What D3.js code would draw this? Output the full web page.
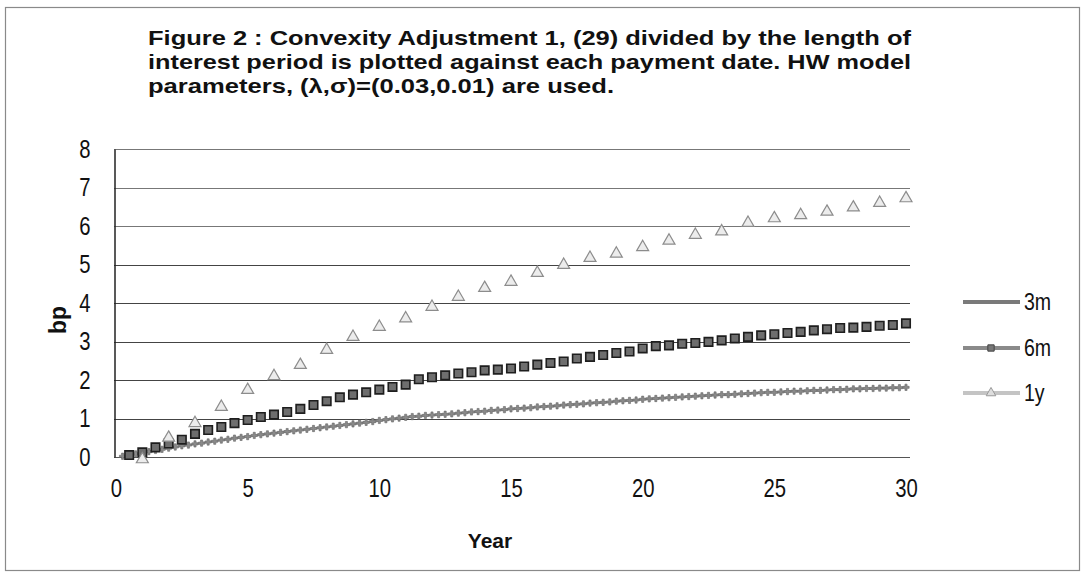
<!DOCTYPE html>
<html>
<head>
    <meta charset="utf-8">
    <script src="https://d3js.org/d3.v7.min.js"></script>
    <style>
        body { margin: 0; background: #fff; }
        text { font-family: "Liberation Sans", Arial, sans-serif; }
    </style>
</head>
<body>
    <div id="my_dataviz"></div>
    <script>

        // title lines
        var titleLines = [
            "Figure 2 : Convexity Adjustment 1,  (29) divided by the length of",
            "interest period is plotted against each payment date. HW model",
            "parameters, (\u03bb,\u03c3)=(0.03,0.01)  are used."
        ];
        var titleWidths = [763, 763, 466];

        var xTicks = [0, 5, 10, 15, 20, 25, 30];
        var yTicks = [0, 1, 2, 3, 4, 5, 6, 7, 8];
        var seriesNames = ["3m", "6m", "1y"];

        // 3m: quarterly payment dates 0.25 .. 30
        var values3m = [
            0.02, 0.05, 0.08, 0.11, 0.14, 0.17, 0.20, 0.23, 0.26, 0.29, 0.31, 0.34,
            0.36, 0.39, 0.41, 0.44, 0.46, 0.49, 0.51, 0.53, 0.56, 0.58, 0.60, 0.62,
            0.64, 0.66, 0.68, 0.70, 0.72, 0.74, 0.76, 0.78, 0.80, 0.82, 0.84, 0.86,
            0.88, 0.90, 0.92, 0.95, 0.97, 0.99, 1.01, 1.03, 1.05, 1.06, 1.08, 1.09,
            1.10, 1.11, 1.12, 1.14, 1.15, 1.17, 1.18, 1.19, 1.21, 1.22, 1.23, 1.25,
            1.26, 1.27, 1.28, 1.30, 1.31, 1.32, 1.33, 1.35, 1.36, 1.37, 1.38, 1.40,
            1.41, 1.42, 1.43, 1.45, 1.46, 1.47, 1.48, 1.50, 1.51, 1.52, 1.53, 1.54,
            1.55, 1.56, 1.57, 1.58, 1.59, 1.60, 1.61, 1.62, 1.62, 1.63, 1.64, 1.65,
            1.66, 1.67, 1.68, 1.68, 1.69, 1.70, 1.71, 1.71, 1.72, 1.73, 1.73, 1.74,
            1.75, 1.75, 1.76, 1.77, 1.77, 1.78, 1.78, 1.79, 1.79, 1.80, 1.80, 1.81
        ];

        // 6m: semi-annual payment dates 0.5 .. 30
        var values6m = [
            0.05, 0.12, 0.25, 0.35, 0.45, 0.60, 0.70, 0.78, 0.88, 0.96,
            1.04, 1.10, 1.17, 1.25, 1.35, 1.45, 1.55, 1.62, 1.68, 1.75,
            1.82, 1.88, 2.02, 2.07, 2.12, 2.17, 2.20, 2.25, 2.27, 2.30,
            2.35, 2.40, 2.44, 2.48, 2.56, 2.60, 2.65, 2.70, 2.74, 2.82,
            2.88, 2.90, 2.94, 2.96, 2.99, 3.03, 3.08, 3.12, 3.16, 3.19,
            3.22, 3.25, 3.29, 3.32, 3.35, 3.36, 3.38, 3.41, 3.43, 3.47
        ];

        // 1y: annual payment dates 1 .. 30
        var values1y = [
            -0.06, 0.50, 0.88, 1.30, 1.74, 2.10, 2.39, 2.78, 3.12, 3.38,
            3.60, 3.90, 4.16, 4.39, 4.55, 4.78, 4.99, 5.17, 5.28, 5.45,
            5.62, 5.77, 5.86, 6.08, 6.20, 6.28, 6.37, 6.48, 6.60, 6.72
        ];

        function toPoints(vals, step) {
            return vals.map(function (v, i) { return { t: (i + 1) * step, v: v }; });
        }
        var data3m = toPoints(values3m, 0.25);
        var data6m = toPoints(values6m, 0.5);
        var data1y = toPoints(values1y, 1);

        var W = 1083, H = 578;
        var svg = d3.select("#my_dataviz")
            .append("svg")
            .attr("width", W)
            .attr("height", H);

        // outer frame
        svg.append("rect")
            .attr("x", 5.5).attr("y", 7.5)
            .attr("width", 1074).attr("height", 563)
            .attr("fill", "none")
            .attr("stroke", "#8a8a8a")
            .attr("stroke-width", 1.2);

        // title
        svg.append("g").selectAll("text")
            .data(titleLines)
            .enter().append("text")
            .attr("x", 148)
            .attr("y", function (d, i) { return 45 + i * 24; })
            .attr("font-size", 21)
            .attr("font-weight", "bold")
            .attr("fill", "#111")
            .attr("textLength", function (d, i) { return titleWidths[i]; })
            .attr("lengthAdjust", "spacingAndGlyphs")
            .text(function (d) { return d; });

        var x = d3.scaleLinear().domain([0, 30]).range([116, 906]);
        var y = d3.scaleLinear().domain([0, 8]).range([457, 149]);

        // gridlines
        svg.append("g").selectAll("line")
            .data(yTicks.slice(1))
            .enter().append("line")
            .attr("x1", 114).attr("x2", 910)
            .attr("y1", function (d) { return Math.round(y(d)) + 0.5; })
            .attr("y2", function (d) { return Math.round(y(d)) + 0.5; })
            .attr("stroke", function (d) { return d >= 6 ? "#777" : "#444"; })
            .attr("stroke-width", 1);

        // x axis
        var xAxis = svg.append("g")
            .attr("transform", "translate(0," + (Math.round(y(0)) + 0.5) + ")")
            .call(d3.axisBottom(x).tickValues(xTicks).tickSize(0).tickPadding(21));
        xAxis.select(".domain").attr("stroke", "#555").attr("d", "M114,0H910");
        xAxis.selectAll("text")
            .attr("font-size", 26)
            .attr("fill", "#111")
            .attr("transform", "scale(0.78,1)");

        // y axis
        var yAxis = svg.append("g")
            .attr("transform", "translate(114.5,0)")
            .call(d3.axisLeft(y).tickValues(yTicks).tickSize(0));
        yAxis.select(".domain").attr("stroke", "#222").attr("stroke-width", 1.5);
        yAxis.selectAll("text")
            .attr("font-size", 26)
            .attr("fill", "#111")
            .attr("x", -24 / 0.78)
            .attr("transform", "scale(0.78,1)");

        // axis titles
        svg.append("text")
            .attr("text-anchor", "middle")
            .attr("transform", "translate(66,320) rotate(-90)")
            .attr("font-size", 23)
            .attr("font-weight", "bold")
            .attr("fill", "#111")
            .text("bp");
        svg.append("text")
            .attr("x", 490).attr("y", 548)
            .attr("text-anchor", "middle")
            .attr("font-size", 21)
            .attr("font-weight", "bold")
            .attr("fill", "#111")
            .text("Year");

        // 3m series : dense small markers
        svg.append("path")
            .datum(data3m)
            .attr("fill", "none")
            .attr("stroke", "#b0b0b0")
            .attr("stroke-width", 2.5)
            .attr("d", d3.line()
                .x(function (d) { return x(d.t); })
                .y(function (d) { return y(d.v); }));
        svg.append("g").selectAll("path")
            .data(data3m)
            .enter().append("path")
            .attr("transform", function (d) { return "translate(" + x(d.t) + "," + y(d.v) + ")"; })
            .attr("d", d3.symbol().type(d3.symbolCross).size(22))
            .attr("fill", "#8a8a8a")
            .attr("stroke", "#666")
            .attr("stroke-width", 0.6);

        // 6m series : squares
        svg.append("g").selectAll("path")
            .data(data6m)
            .enter().append("path")
            .attr("transform", function (d) { return "translate(" + x(d.t) + "," + y(d.v) + ")"; })
            .attr("d", d3.symbol().type(d3.symbolSquare).size(72))
            .attr("fill", "#6e6e6e")
            .attr("stroke", "#1e1e1e")
            .attr("stroke-width", 1.6);

        // 1y series : triangles
        svg.append("g").selectAll("path")
            .data(data1y)
            .enter().append("path")
            .attr("transform", function (d) { return "translate(" + x(d.t) + "," + y(d.v) + ")"; })
            .attr("d", d3.symbol().type(d3.symbolTriangle).size(62))
            .attr("fill", "#ececec")
            .attr("stroke", "#8c8c8c")
            .attr("stroke-width", 1.2);

        // legend
        var legendY = [302, 348, 393];
        var legendStroke = ["#7a7a7a", "#8a8a8a", "#c4c4c4"];
        var legend = svg.append("g").selectAll("g")
            .data(seriesNames)
            .enter().append("g")
            .attr("transform", function (d, i) { return "translate(0," + legendY[i] + ")"; });
        legend.append("line")
            .attr("x1", 963).attr("x2", 1020)
            .attr("y1", 0).attr("y2", 0)
            .attr("stroke", function (d, i) { return legendStroke[i]; })
            .attr("stroke-width", 4);
        legend.filter(function (d, i) { return i > 0; })
            .append("path")
            .attr("transform", "translate(991,0)")
            .attr("d", function (d, i) {
                return d3.symbol().type(i === 0 ? d3.symbolSquare : d3.symbolTriangle).size(40)();
            })
            .attr("fill", function (d, i) { return i === 0 ? "#777" : "#ddd"; })
            .attr("stroke", function (d, i) { return i === 0 ? "#444" : "#999"; });
        legend.append("text")
            .attr("x", 1024 / 0.85).attr("y", 8)
            .attr("font-size", 23)
            .attr("fill", "#111")
            .attr("transform", "scale(0.85,1)")
            .text(function (d) { return d; });

    </script>
</body>
</html>
